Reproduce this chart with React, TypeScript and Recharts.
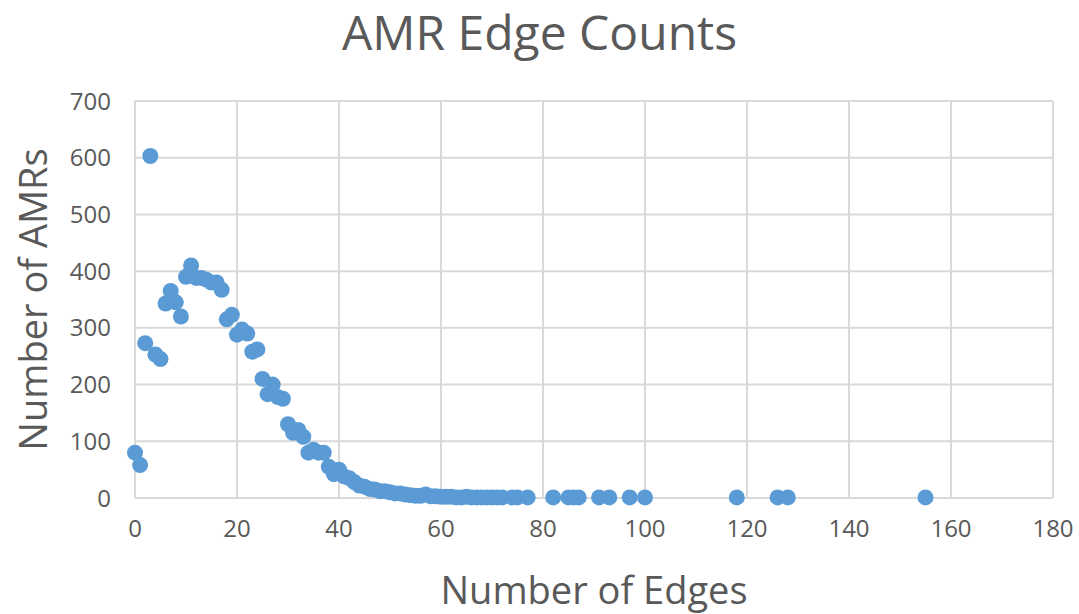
import React from 'react';
import { ScatterChart, Scatter, XAxis, YAxis, CartesianGrid } from 'recharts';

const edges = [0, 1, 2, 3, 4, 5, 6, 7, 8, 9, 10, 11, 12, 13, 14, 15, 16, 17, 18, 19, 20, 21, 22, 23, 24, 25, 26, 27, 28, 29, 30, 31, 32, 33, 34, 35, 36, 37, 38, 39, 40, 41, 42, 43, 44, 45, 46, 47, 48, 49, 50, 51, 52, 53, 54, 55, 56, 57, 58, 59, 60, 61, 62, 63, 64, 65, 66, 67, 68, 69, 70, 71, 72, 74, 75, 77, 82, 85, 86, 87, 91, 93, 97, 100, 118, 126, 128, 155];
const amrs = [80, 58, 273, 603, 253, 245, 343, 365, 345, 320, 390, 410, 388, 388, 385, 380, 380, 367, 315, 323, 288, 297, 290, 258, 262, 210, 183, 200, 178, 175, 130, 115, 120, 108, 80, 85, 80, 80, 55, 42, 50, 38, 35, 28, 22, 20, 16, 15, 12, 12, 10, 8, 8, 6, 5, 4, 4, 6, 3, 3, 2, 2, 2, 1, 1, 2, 1, 1, 1, 1, 1, 1, 1, 1, 1, 1, 1, 1, 1, 1, 1, 1, 1, 1, 1, 1, 1, 1];
const xTicks = [0, 20, 40, 60, 80, 100, 120, 140, 160, 180];
const yTicks = [0, 100, 200, 300, 400, 500, 600, 700];

const data = edges.map((e, i) => ({ x: e, y: amrs[i] }));

const FONT = "'Open Sans', 'Noto Sans', sans-serif";
const TXT = '#595959';

const Dot = (props: any) => <circle cx={props.cx} cy={props.cy} r={8} fill="#5B9BD5" />;

const XLabel = (props: any) => {
  const vb = props.viewBox || {};
  const cx = vb.x + vb.width / 2;
  return (
    <text x={cx} y={604} textAnchor="middle" fill={TXT} fontSize={38} fontFamily={FONT}>
      Number of Edges
    </text>
  );
};

const YLabel = (props: any) => {
  const vb = props.viewBox || {};
  const cy = vb.y + vb.height / 2;
  return (
    <text x={47} y={cy} transform={`rotate(-90 47 ${cy})`} textAnchor="middle" fill={TXT} fontSize={38} fontFamily={FONT}>
      Number of AMRs
    </text>
  );
};

export default function App() {
  return (
    <div style={{ position: 'absolute', left: 0, top: 0, width: 1079, height: 614, background: '#fff', fontFamily: FONT }}>
      <div style={{ position: 'absolute', left: 0, width: 1079, top: -2, textAlign: 'center', fontSize: 48, color: TXT, fontFamily: FONT, lineHeight: '68px' }}>
        AMR Edge Counts
      </div>
      <ScatterChart width={1079} height={614} margin={{ top: 101, right: 26, bottom: 0, left: 0 }}>
        <CartesianGrid stroke="#d9d9d9" strokeWidth={2} />
        <XAxis
          type="number"
          dataKey="x"
          domain={[0, 180]}
          ticks={xTicks}
          interval={0}
          height={116}
          tickLine={false}
          tickSize={0}
          tickMargin={22}
          axisLine={{ stroke: '#d9d9d9', strokeWidth: 2 }}
          tick={{ fill: TXT, fontSize: 24, fontFamily: FONT }}
          label={<XLabel />}
        />
        <YAxis
          type="number"
          dataKey="y"
          domain={[0, 700]}
          ticks={yTicks}
          interval={0}
          width={135}
          tickLine={false}
          tickSize={0}
          tickMargin={24}
          axisLine={{ stroke: '#d9d9d9', strokeWidth: 2 }}
          tick={{ fill: TXT, fontSize: 24, fontFamily: FONT }}
          label={<YLabel />}
        />
        <Scatter data={data} shape={Dot} isAnimationActive={false} />
      </ScatterChart>
    </div>
  );
}
